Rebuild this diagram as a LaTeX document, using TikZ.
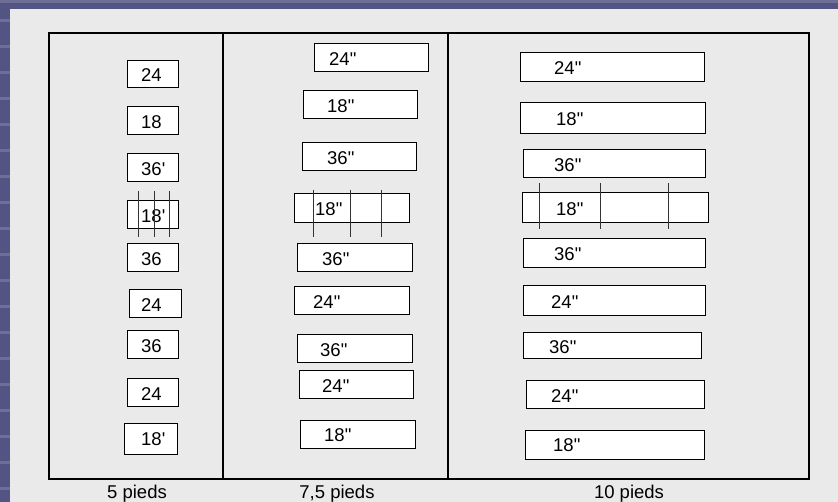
\documentclass[tikz,border=0pt]{standalone}
\usepackage{fontspec}
\setmainfont{Liberation Sans}[Ligatures=TeXOff]

\definecolor{bgblue}{RGB}{84,84,132}
\definecolor{panel}{RGB}{234,234,234}

\tikzset{
  board/.style={draw, line width=1pt, fill=white, inner sep=0pt, outer sep=0pt},
  num/.style={anchor=west, inner sep=0pt, font=\fontsize{18.5}{20}\selectfont},
  foot/.style={anchor=base, inner sep=0pt, font=\fontsize{18.5}{20}\selectfont},
  cut/.style={line width=0.8pt, black!80},
}

\begin{document}
\begin{tikzpicture}[x=1pt, y=-1pt]
  \useasboundingbox (0,0) rectangle (838,502);
  % slide background
  \fill[bgblue] (0,0) rectangle (838,502);
  \foreach \s in {19,45,71,97,123,149,175,201,227,253,279,305,331,357,383,409,435,461,487}
    \fill[bgblue!85!white] (0,\s) rectangle (10,\s+3);
  \fill[bgblue!85!white] (0,0) rectangle (838,3);
  \fill[panel] (10,9) rectangle (838,502);

  % frame and the three widths
  \draw[line width=2.2pt] (49,33) rectangle (809,479);
  \draw[line width=2.2pt] (223,33) -- (223,479);
  \draw[line width=2.2pt] (448,33) -- (448,479);

  % 5 pieds
  \foreach \xl/\yt/\xr/\yb/\tx/\txt [count=\i] in {
      127/61/178/88/141/24, 127/107/178/135/141/18, 127/154/178/182/141/{36'},
      127/201/178/229/141/{18'}, 127/244/178/272/141/36, 129/290/181/318/141/24,
      127/331/178/359/141/36, 127/379/178/407/141/24, 124/423/177/454/141/{18'}} {
    \node[board, minimum width={(\xr-\xl)*1pt}, minimum height={(\yb-\yt)*1pt}]
      (a\i) at ({(\xl+\xr)/2},{(\yt+\yb)/2}) {};
    \node[num] (ta\i) at (\tx,{(\yt+\yb)/2+1}) {\txt};
  }

  % 7,5 pieds
  \foreach \xl/\yt/\xr/\yb/\tx/\txt [count=\i] in {
      314/44/428/72/329/{24"}, 303/91/417/119/327/{18"}, 302/143/416/171/327/{36"},
      294/194/409/223/315/{18"}, 297/244/412/272/322/{36"}, 294/287/409/315/313/{24"},
      297/335/412/363/320/{36"}, 299/371/413/399/322/{24"}, 300/420/415/448/324/{18"}} {
    \node[board, minimum width={(\xr-\xl)*1pt}, minimum height={(\yb-\yt)*1pt}]
      (b\i) at ({(\xl+\xr)/2},{(\yt+\yb)/2}) {};
    \node[num] (tb\i) at (\tx,{(\yt+\yb)/2+1}) {\txt};
  }

  % 10 pieds
  \foreach \xl/\yt/\xr/\yb/\tx/\txt [count=\i] in {
      520/53/704/82/554/{24"}, 520/103/705/134/556/{18"}, 523/150/705/178/554/{36"},
      522/193/708/223/556/{18"}, 523/239/705/268/554/{36"}, 523/286/705/316/551/{24"},
      523/333/701/359/549/{36"}, 526/381/704/409/551/{24"}, 525/430/704/459/553/{18"}} {
    \node[board, minimum width={(\xr-\xl)*1pt}, minimum height={(\yb-\yt)*1pt}]
      (c\i) at ({(\xl+\xr)/2},{(\yt+\yb)/2}) {};
    \node[num] (tc\i) at (\tx,{(\yt+\yb)/2+1}) {\txt};
  }

  % cuts through the 4th board
  \foreach \x in {138,154,169} \draw[cut] (\x,191) -- (\x,237);
  \foreach \x in {313,350,381} \draw[cut] (\x,190) -- (\x,237);
  \foreach \x in {539,600,668} \draw[cut] (\x,183) -- (\x,229);

  \node[foot] (w5) at (137,498) {5 pieds};
  \node[foot] (w7) at (337,498) {7,5 pieds};
  \node[foot] (w10) at (629,498) {10 pieds};
\end{tikzpicture}
\end{document}
